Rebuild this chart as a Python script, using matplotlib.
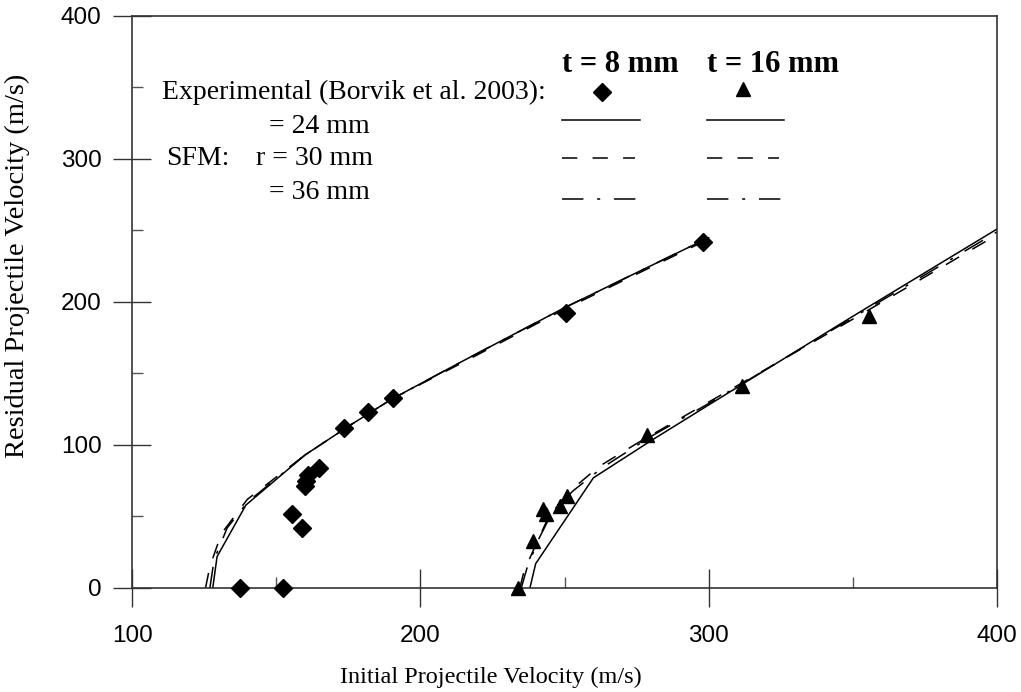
import matplotlib
matplotlib.use("Agg")
import matplotlib.pyplot as plt
from matplotlib.ticker import MultipleLocator

# experimental points (Borvik et al. 2003)
exp8_v0 = [137.5, 152.5, 155.5, 159.0, 160.0, 160.5, 161.0, 165.0, 173.5, 182.0, 190.5, 250.5, 298.0]
exp8_vr = [0, 0, 52, 42, 71, 75, 79, 84, 112, 123, 133, 192, 242]
exp16_v0 = [234.0, 239.0, 242.5, 243.5, 248.5, 251.0, 278.5, 311.5, 355.5]
exp16_vr = [0, 33, 55, 52, 57, 64, 107, 141, 190]

# SFM, t = 8 mm
sfm8_r24_v0 = [128.0, 129.5, 139.5, 160.0, 175.0, 190.0, 215.0, 250.0, 300.0]
sfm8_r24_vr = [0, 22, 58, 93, 113, 132, 159, 196, 245]
sfm8_r30_v0 = [125.5, 127.0, 131.0, 140.0, 160.0, 175.0, 190.0, 215.0, 250.0, 300.0]
sfm8_r30_vr = [0, 15, 38, 62, 93, 113, 132, 158, 195, 244]
sfm8_r36_v0 = [127.0, 128.5, 133.0, 140.0, 160.0, 175.0, 190.0, 215.0, 250.0, 300.0]
sfm8_r36_vr = [0, 20, 42, 60, 93, 113, 132, 159, 196, 245]

# SFM, t = 16 mm
sfm16_r24_v0 = [238.0, 240.0, 260.0, 280.0, 300.0, 350.0, 400.0]
sfm16_r24_vr = [0, 17, 77, 103, 128, 190, 251]
sfm16_r30_v0 = [234.5, 236.0, 240.0, 245.0, 252.0, 262.0, 275.0, 300.0, 350.0, 400.0]
sfm16_r30_vr = [0, 12, 30, 52, 68, 85, 101, 130, 188, 247]
sfm16_r36_v0 = [235.0, 237.0, 241.0, 246.0, 253.0, 263.0, 280.0, 300.0, 350.0, 400.0]
sfm16_r36_vr = [0, 14, 34, 54, 68, 84, 106, 129, 189, 249]

serif = ['Liberation Serif', 'DejaVu Serif']
sans = ['Liberation Sans', 'DejaVu Sans']

fig = plt.figure(figsize=(10.21, 6.92), dpi=100)
ax = fig.add_axes([0.1293, 0.1503, 0.8472, 0.8266])

dashed = (0, (10, 10))
dashdot = (0, (14, 9, 2, 9))
lw = 1.1

ax.plot(sfm8_r24_v0, sfm8_r24_vr, color='k', lw=lw, ls='-')
ax.plot(sfm8_r30_v0, sfm8_r30_vr, color='k', lw=lw, ls=dashed)
ax.plot(sfm8_r36_v0, sfm8_r36_vr, color='k', lw=lw, ls=dashdot)
ax.plot(sfm16_r24_v0, sfm16_r24_vr, color='k', lw=lw, ls='-')
ax.plot(sfm16_r30_v0, sfm16_r30_vr, color='k', lw=lw, ls=dashed)
ax.plot(sfm16_r36_v0, sfm16_r36_vr, color='k', lw=lw, ls=dashdot)

ax.plot(exp8_v0, exp8_vr, ls='none', marker='D', ms=9, color='k', clip_on=False, zorder=5)
ax.plot(exp16_v0, exp16_vr, ls='none', marker='^', ms=10, color='k', clip_on=False, zorder=5)

ax.set_xlim(100, 400)
ax.set_ylim(0, 400)
ax.xaxis.set_major_locator(MultipleLocator(100))
ax.xaxis.set_minor_locator(MultipleLocator(50))
ax.yaxis.set_major_locator(MultipleLocator(100))
ax.yaxis.set_minor_locator(MultipleLocator(50))
ax.tick_params(which='major', direction='inout', length=28, width=1, color='#333333',
               labelsize=17.5, pad=8)
ax.tick_params(which='minor', direction='in', length=8, width=1, color='#555555')
ax.tick_params(axis='x', which='major', pad=13)
for lab in ax.get_xticklabels() + ax.get_yticklabels():
    lab.set_family(sans)
for s in ax.spines.values():
    s.set_linewidth(1.2)
    s.set_color('#333333')

ax.set_xlabel('Initial Projectile Velocity (m/s)', family=serif, fontsize=17.5)
ax.set_ylabel('Residual Projectile Velocity (m/s)', family=serif, fontsize=20.5)
ax.xaxis.set_label_coords(0.415, -0.137)
ax.yaxis.set_label_coords(-0.118, 0.563)

# legend drawn by hand
tr = ax.transAxes
def fx(px):
    return (px - 132) / 865.0
def fy(py):
    return (588 - py) / 572.0

fs = 20
ax.text(fx(162), fy(92), 'Experimental (Borvik et al. 2003):', family=serif, fontsize=fs,
        va='center', ha='left', transform=tr)
ax.text(fx(269), fy(127), '= 24 mm', family=serif, fontsize=fs, va='center', transform=tr)
ax.text(fx(166), fy(159), 'SFM:', family=serif, fontsize=fs, va='center', transform=tr)
ax.text(fx(256), fy(159), 'r = 30 mm', family=serif, fontsize=fs, va='center', transform=tr)
ax.text(fx(269), fy(193), '= 36 mm', family=serif, fontsize=fs, va='center', transform=tr)
ax.text(fx(562), fy(65), 't = 8 mm', family=serif, fontsize=22, fontweight='bold',
        va='center', ha='left', transform=tr)
ax.text(fx(707), fy(65), 't = 16 mm', family=serif, fontsize=22, fontweight='bold',
        va='center', ha='left', transform=tr)
ax.plot([fx(602)], [fy(92)], marker='D', ms=9, color='k', transform=tr)
ax.plot([fx(743)], [fy(89)], marker='^', ms=10, color='k', transform=tr)
for x0, x1 in [(562, 640), (707, 784)]:
    ax.plot([fx(x0), fx(x1)], [fy(120), fy(120)], color='k', lw=lw, ls='-', transform=tr)
    ax.plot([fx(x0), fx(x1 - 5)], [fy(158), fy(158)], color='k', lw=lw, ls=dashed, transform=tr)
    ax.plot([fx(x0), fx(x1)], [fy(199), fy(199)], color='k', lw=lw, ls=dashdot, transform=tr)

fig.savefig('out.png', dpi=100)
